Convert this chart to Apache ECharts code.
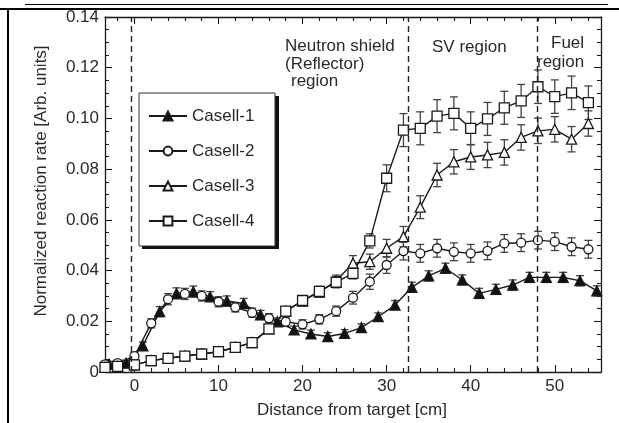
<!DOCTYPE html>
<html><head><meta charset="utf-8">
<script src="https://cdn.jsdelivr.net/npm/echarts@6/dist/echarts.min.js"></script>
<style>html,body{margin:0;padding:0;background:#fff}#c{width:619px;height:423px}</style>
</head><body><div id="c"></div>
<script>
// ---- data ----
const xOdd  = [-3,-1,1,3,5,7,9,11,13,15,17,19,21,23,25,27,29,31,33,35,37,39,41,43,45,47,49,51,53,55];
const xEven = [-3.5,-2,0,2,4,6,8,10,12,14,16,18,20,22,24,26,28,30,32,34,36,38,40,42,44,46,48,50,52,54];

const casell1    = [0.0030,0.0035,0.0103,0.0238,0.0310,0.0317,0.0297,0.0280,0.0270,0.0225,0.0198,0.0166,0.0150,0.0140,0.0152,0.0175,0.0218,0.0264,0.0334,0.0379,0.0409,0.0363,0.0310,0.0326,0.0343,0.0373,0.0373,0.0373,0.0360,0.0320];
const casell1Err = [0.0012,0.0012,0.0015,0.0020,0.0022,0.0022,0.0020,0.0020,0.0020,0.0018,0.0015,0.0015,0.0015,0.0015,0.0015,0.0015,0.0015,0.0018,0.0020,0.0020,0.0020,0.0020,0.0020,0.0020,0.0020,0.0020,0.0020,0.0020,0.0020,0.0020];

const casell2    = [0.0030,0.0035,0.0063,0.0192,0.0287,0.0308,0.0300,0.0277,0.0255,0.0234,0.0212,0.0198,0.0188,0.0208,0.0240,0.0293,0.0356,0.0422,0.0477,0.0468,0.0488,0.0474,0.0468,0.0478,0.0507,0.0510,0.0520,0.0514,0.0494,0.0484];
const casell2Err = [0.0012,0.0012,0.0015,0.0018,0.0022,0.0022,0.0020,0.0020,0.0018,0.0018,0.0018,0.0018,0.0018,0.0018,0.0020,0.0025,0.0030,0.0033,0.0035,0.0035,0.0035,0.0035,0.0035,0.0035,0.0035,0.0035,0.0035,0.0035,0.0035,0.0035];

const casell3    = [0.0018,0.0022,0.0028,0.0045,0.0054,0.0063,0.0071,0.0080,0.0097,0.0116,0.0170,0.0240,0.0280,0.0315,0.0360,0.0429,0.0435,0.0488,0.0534,0.0650,0.0777,0.0829,0.0848,0.0856,0.0866,0.0925,0.0951,0.0957,0.0918,0.0980];
const casell3Err = [0.0010,0.0010,0.0010,0.0010,0.0010,0.0010,0.0010,0.0010,0.0010,0.0012,0.0015,0.0015,0.0018,0.0020,0.0022,0.0030,0.0030,0.0035,0.0040,0.0045,0.0046,0.0048,0.0049,0.0050,0.0050,0.0050,0.0050,0.0050,0.0050,0.0050];

const casell4    = [0.0018,0.0022,0.0028,0.0045,0.0054,0.0063,0.0071,0.0080,0.0097,0.0116,0.0170,0.0240,0.0282,0.0318,0.0354,0.0389,0.0517,0.0764,0.0954,0.0961,0.1009,0.1020,0.0961,0.0998,0.1042,0.1069,0.1125,0.1086,0.1101,0.1062];
const casell4Err = [0.0010,0.0010,0.0010,0.0010,0.0010,0.0010,0.0010,0.0010,0.0010,0.0012,0.0015,0.0015,0.0018,0.0020,0.0022,0.0022,0.0028,0.0053,0.0065,0.0065,0.0065,0.0065,0.0065,0.0065,0.0065,0.0065,0.0066,0.0066,0.0066,0.0066];

const seriesNames  = ['Casell-1','Casell-2','Casell-3','Casell-4'];
const xMajorTicks  = [0,10,20,30,40,50];
const xMinorTicks  = [-2,2,4,6,8,12,14,16,18,22,24,26,28,32,34,36,38,42,44,46,48,52,54];
const regionBounds = [-0.4,32.6,47.9];
const yTickLabels  = ['0','0.02','0.04','0.06','0.08','0.10','0.12','0.14'];

// ---- chart ----
const FONT = '"Liberation Sans", Arial, Helvetica, sans-serif';
const INK = '#1a1a1a';
const TXT = '#2a2a2a';
const chart = echarts.init(document.getElementById('c'), null, {renderer:'canvas'});

const xBase = {type:'value', min:-3.5, max:55.5, splitLine:{show:false}, gridIndex:0};
const yBase = {type:'value', min:0, max:0.14, interval:0.02, splitLine:{show:false}};

function zip(xs, ys){ return xs.map((x,i)=>[x, ys[i]]); }

function errSeries(xs, ys, es){
  return {
    type:'custom', silent:true, z:1, animation:false,
    data: xs.map((x,i)=>[x, ys[i]-es[i], ys[i]+es[i]]),
    encode:{x:0, y:[1,2]},
    renderItem:(params, api)=>{
      const x = api.value(0);
      const lo = api.coord([x, api.value(1)]);
      const hi = api.coord([x, api.value(2)]);
      const w = 4;
      const st = {stroke:'#444', lineWidth:1.3};
      return {type:'group', children:[
        {type:'line', shape:{x1:lo[0],y1:lo[1],x2:hi[0],y2:hi[1]}, style:st},
        {type:'line', shape:{x1:lo[0]-w,y1:lo[1],x2:lo[0]+w,y2:lo[1]}, style:st},
        {type:'line', shape:{x1:hi[0]-w,y1:hi[1],x2:hi[0]+w,y2:hi[1]}, style:st}
      ]};
    }
  };
}

function lineSeries(name, xs, ys, symbol, size, fill, extra){
  return Object.assign({
    name, type:'line', data:zip(xs, ys), symbol, symbolSize:size, showAllSymbol:true,
    lineStyle:{color:INK, width:1.4}, itemStyle:{color:fill, borderColor:INK, borderWidth:1.3},
    z:3, animation:false
  }, extra||{});
}

const option = {
  backgroundColor:'#fff',
  animation:false,
  grid:{left:105, right:18, top:17, bottom:51, containLabel:false},
  xAxis:[
    Object.assign({}, xBase, {position:'bottom',
      axisLine:{show:true, onZero:false, lineStyle:{color:INK, width:1.3}},
      axisTick:{show:true, inside:true, length:7, customValues:xMajorTicks, lineStyle:{color:INK, width:1.1}},
      axisLabel:{show:true, customValues:xMajorTicks, fontSize:17, color:TXT, margin:6, fontFamily:FONT}}),
    Object.assign({}, xBase, {position:'bottom',
      axisLine:{show:false, onZero:false},
      axisTick:{show:true, inside:true, length:4, customValues:xMinorTicks, lineStyle:{color:INK, width:1.1}},
      axisLabel:{show:false}}),
    Object.assign({}, xBase, {position:'top',
      axisLine:{show:true, onZero:false, lineStyle:{color:INK, width:1.3}},
      axisTick:{show:true, inside:true, length:7, customValues:xMajorTicks, lineStyle:{color:INK, width:1.1}},
      axisLabel:{show:false}}),
    Object.assign({}, xBase, {position:'top',
      axisLine:{show:false, onZero:false},
      axisTick:{show:true, inside:true, length:4, customValues:xMinorTicks, lineStyle:{color:INK, width:1.1}},
      axisLabel:{show:false}})
  ],
  yAxis:[
    Object.assign({}, yBase, {position:'left',
      axisLine:{show:true, onZero:false, lineStyle:{color:INK, width:1.3}},
      axisTick:{show:true, inside:true, length:7, lineStyle:{color:INK, width:1.1}},
      minorTick:{show:true, splitNumber:4, length:4, lineStyle:{color:INK, width:1.1}},
      axisLabel:{fontSize:17, color:TXT, margin:6, fontFamily:FONT,
        formatter:(v)=> yTickLabels[Math.round(v/0.02)]}}),
    Object.assign({}, yBase, {position:'right',
      axisLine:{show:true, onZero:false, lineStyle:{color:INK, width:1.3}},
      axisTick:{show:true, inside:true, length:7, lineStyle:{color:INK, width:1.1}},
      minorTick:{show:true, splitNumber:4, length:4, lineStyle:{color:INK, width:1.1}},
      axisLabel:{show:false}})
  ],
  legend:{
    data:seriesNames, orient:'vertical', left:148, top:107, padding:0,
    itemWidth:38, itemHeight:11, itemGap:17, selectedMode:false, z:5,
    textStyle:{fontSize:17, color:TXT, lineHeight:18, fontFamily:FONT}
  },
  graphic:[
    {type:'line', shape:{x1:0,y1:9,x2:619,y2:9}, style:{stroke:'#000', lineWidth:2}, z:10},
    {type:'line', shape:{x1:25,y1:4.5,x2:608,y2:4.5}, style:{stroke:'#000', lineWidth:1}, z:10},
    {type:'line', shape:{x1:8,y1:9,x2:8,y2:423}, style:{stroke:'#000', lineWidth:2}, z:10},
    {type:'rect', shape:{x:142, y:96, width:137, height:153}, style:{fill:'#111'}, z:3},
    {type:'rect', shape:{x:139, y:93, width:136, height:153}, style:{fill:'#fff', stroke:'#333', lineWidth:1}, z:3},
    {type:'text', x:41, y:181, rotation:Math.PI/2, style:{text:'Normalized reaction rate [Arb. units]', align:'center', verticalAlign:'middle', fontSize:17, fontFamily:FONT, fill:TXT}, z:10},
    {type:'text', x:352, y:410, style:{text:'Distance from target [cm]', align:'center', verticalAlign:'middle', fontSize:17, fontFamily:FONT, fill:TXT}, z:10},
    {type:'text', x:285, y:46, style:{text:'Neutron shield', align:'left', verticalAlign:'middle', fontSize:17, fontFamily:FONT, fill:TXT}, z:10},
    {type:'text', x:285, y:64, style:{text:'(Reflector)', align:'left', verticalAlign:'middle', fontSize:17, fontFamily:FONT, fill:TXT}, z:10},
    {type:'text', x:291, y:81, style:{text:'region', align:'left', verticalAlign:'middle', fontSize:17, fontFamily:FONT, fill:TXT}, z:10},
    {type:'text', x:432, y:47, style:{text:'SV region', align:'left', verticalAlign:'middle', fontSize:17, fontFamily:FONT, fill:TXT}, z:10},
    {type:'text', x:551, y:43, style:{text:'Fuel', align:'left', verticalAlign:'middle', fontSize:17, fontFamily:FONT, fill:TXT}, z:10},
    {type:'text', x:537, y:62, style:{text:'region', align:'left', verticalAlign:'middle', fontSize:17, fontFamily:FONT, fill:TXT}, z:10}
  ],
  series:[
    errSeries(xOdd, casell1, casell1Err),
    errSeries(xEven, casell2, casell2Err),
    errSeries(xEven, casell3, casell3Err),
    errSeries(xEven, casell4, casell4Err),
    lineSeries('Casell-1', xOdd, casell1, 'triangle', 10, '#111', {
      markLine:{silent:true, symbol:['none','none'], label:{show:false}, animation:false,
        lineStyle:{type:[6,4], color:'#222', width:1.4},
        data: regionBounds.map(v=>({xAxis:v}))}
    }),
    lineSeries('Casell-2', xEven, casell2, 'circle', 9, '#fff'),
    lineSeries('Casell-3', xEven, casell3, 'triangle', 10, '#fff'),
    lineSeries('Casell-4', xEven, casell4, 'rect', 10, '#fff')
  ]
};
chart.setOption(option);
</script>
</body></html>
